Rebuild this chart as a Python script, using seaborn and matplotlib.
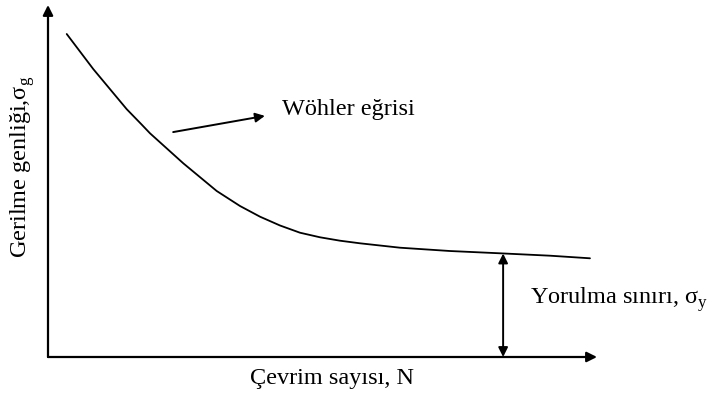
import numpy as np
import pandas as pd
import matplotlib
matplotlib.use("Agg")
import matplotlib.pyplot as plt
import seaborn as sns

# S-N (Wöhler) curve, schematic units on a 0-100 scale
cycles = [3.41, 8.25, 14.34, 17.07, 18.58, 24.64, 30.73, 34.97, 38.62, 42.26,
          45.90, 49.54, 53.19, 56.83, 64.12, 73.22, 82.33, 91.44, 98.72]
stress = [91.76, 81.79, 70.40, 66.02, 63.55, 55.03, 47.16, 42.90, 39.86, 37.36,
          35.31, 34.01, 33.04, 32.30, 31.05, 30.11, 29.46, 28.78, 28.04]

endurance_x = 82.9          # where the fatigue limit is marked
endurance_level = 29.4      # stress level of the fatigue limit

x_label = "Çevrim sayısı, N"
y_label = "Gerilme genliği,σ${}_{\\mathrm{g}}$"
curve_label = "Wöhler eğrisi"
limit_label = "Yorulma sınırı, σ${}_{\\mathrm{y}}$"

sns.set_style("white")
plt.rcParams["font.family"] = ["Liberation Serif", "DejaVu Serif"]
plt.rcParams["mathtext.fontset"] = "custom"
plt.rcParams["mathtext.rm"] = "Liberation Serif"
plt.rcParams["text.color"] = "black"

fig = plt.figure(figsize=(7.15, 3.98), dpi=100)
ax = fig.add_axes([48 / 715, 41 / 398, 549 / 715, 352 / 398])
ax.set_xlim(0, 100)
ax.set_ylim(0, 100)
ax.axis("off")

df = pd.DataFrame({"N": cycles, "S": stress})
sns.lineplot(data=df, x="N", y="S", sort=False, color="black", linewidth=1.3,
             solid_joinstyle="round", ax=ax)

fs = 17.5
arrow_kw = dict(arrowstyle="-|>", color="black", lw=1.6, mutation_scale=15,
                shrinkA=0, shrinkB=0)

# axes drawn as arrows
ax.annotate("", xy=(0, 1), xytext=(0, 0), xycoords="axes fraction",
            textcoords="axes fraction", arrowprops=arrow_kw, annotation_clip=False)
ax.annotate("", xy=(1, 0), xytext=(0, 0), xycoords="axes fraction",
            textcoords="axes fraction", arrowprops=arrow_kw, annotation_clip=False)

# pointer to the curve
ax.annotate("", xy=(39.5, 68.5), xytext=(22.8, 63.9),
            arrowprops=dict(arrowstyle="-|>", color="black", lw=1.4,
                            mutation_scale=14, shrinkA=0, shrinkB=0))
ax.text(42.6, 68.75, curve_label, fontsize=fs, color="black",
        ha="left", va="baseline")

# fatigue limit marker
ax.annotate("", xy=(endurance_x, endurance_level), xytext=(endurance_x, 0),
            arrowprops=dict(arrowstyle="<|-|>", color="black", lw=1.4,
                            mutation_scale=14, shrinkA=0, shrinkB=0))
ax.text(87.8, 15.1, limit_label, fontsize=fs, color="black",
        ha="left", va="baseline", clip_on=False)

ax.text(51.7, -7.67, x_label, fontsize=fs, color="black",
        ha="center", va="baseline", clip_on=False)
ax.text(-4.7, 54.0, y_label, fontsize=fs, color="black", ha="center", va="center",
        rotation=90, clip_on=False)

fig.savefig("out.png", dpi=100)
